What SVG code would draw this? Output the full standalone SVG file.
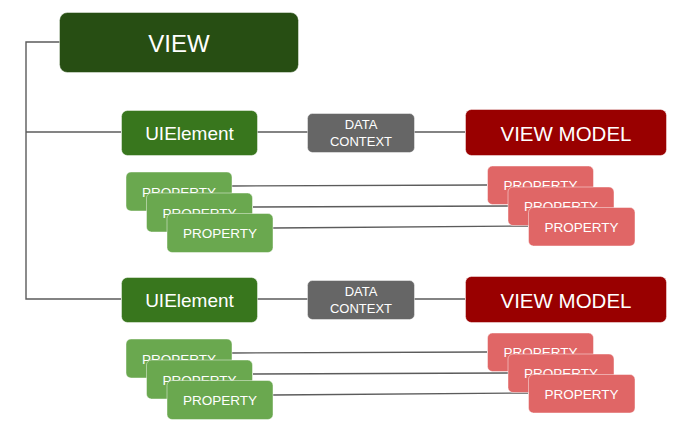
<svg xmlns="http://www.w3.org/2000/svg" width="694" height="434" viewBox="0 0 694 434">
<style>
.ln{stroke:#5b5b5b;stroke-width:1.4;fill:none}
.bx{stroke:#ffffff;stroke-opacity:0.45;stroke-width:1}
.t{font-family:"Liberation Sans",Arial,sans-serif;fill:#ffffff;text-anchor:middle;dominant-baseline:central}
.view{fill:#274e13}
.ui{fill:#38761d}
.gp{fill:#6aa84f}
.dc{fill:#666666}
.vm{fill:#990000}
.rp{fill:#e06666}
.pt{font-size:13.5px}
</style>
<rect width="694" height="434" fill="#ffffff"/>
<g id="connectors">
<path class="ln" d="M60,42 H26 V299 H121"/>
<path class="ln" d="M26,132 H121"/>
<path class="ln" d="M257,132 H308 M414,132 H465"/>
<path class="ln" d="M232,186 L487,185 M253,207 L508,206 M273,228 L528,226"/>
<path class="ln" d="M257,299 H308 M414,299 H465"/>
<path class="ln" d="M232,353 L487,352 M253,374 L508,373 M273,395 L528,393"/>
</g>
<g id="view">
<rect class="bx view" x="59.5" y="12.5" width="239" height="60" rx="8"/>
<text class="t" x="179" y="43" font-size="24">VIEW</text>
</g>
<g id="section1">
<g id="uielement1">
<rect class="bx ui" x="121.5" y="110.5" width="136" height="45" rx="6"/>
<text class="t" x="189.5" y="133" font-size="19">UIElement</text>
</g>
<g id="datacontext1">
<rect class="bx dc" x="307.5" y="113.5" width="107" height="39" rx="5"/>
<text class="t" x="361" y="124" font-size="13">DATA</text>
<text class="t" x="361" y="141" font-size="13">CONTEXT</text>
</g>
<g id="viewmodel1">
<rect class="bx vm" x="465.5" y="109.5" width="201" height="46" rx="6"/>
<text class="t" x="566" y="133" font-size="20.5">VIEW MODEL</text>
</g>
<g id="gprop1a"><rect class="bx gp" x="126" y="172" width="106" height="39" rx="5"/><text class="t pt" x="179" y="192">PROPERTY</text></g>
<g id="gprop1b"><rect class="bx gp" x="146.5" y="193" width="106" height="39" rx="5"/><text class="t pt" x="199.5" y="213">PROPERTY</text></g>
<g id="gprop1c"><rect class="bx gp" x="167" y="213.5" width="106" height="39" rx="5"/><text class="t pt" x="220" y="233">PROPERTY</text></g>
<g id="rprop1a"><rect class="bx rp" x="487.5" y="166" width="106" height="38.5" rx="5"/><text class="t pt" x="540.5" y="185.5">PROPERTY</text></g>
<g id="rprop1b"><rect class="bx rp" x="508" y="187" width="106" height="38.5" rx="5"/><text class="t pt" x="561" y="206.5">PROPERTY</text></g>
<g id="rprop1c"><rect class="bx rp" x="528.5" y="207.5" width="106.5" height="38.5" rx="5"/><text class="t pt" x="581.5" y="227">PROPERTY</text></g>
</g>
<g id="section2" transform="translate(0,167)">
<g id="uielement2">
<rect class="bx ui" x="121.5" y="110.5" width="136" height="45" rx="6"/>
<text class="t" x="189.5" y="133" font-size="19">UIElement</text>
</g>
<g id="datacontext2">
<rect class="bx dc" x="307.5" y="113.5" width="107" height="39" rx="5"/>
<text class="t" x="361" y="124" font-size="13">DATA</text>
<text class="t" x="361" y="141" font-size="13">CONTEXT</text>
</g>
<g id="viewmodel2">
<rect class="bx vm" x="465.5" y="109.5" width="201" height="46" rx="6"/>
<text class="t" x="566" y="133" font-size="20.5">VIEW MODEL</text>
</g>
<g id="gprop2a"><rect class="bx gp" x="126" y="172" width="106" height="39" rx="5"/><text class="t pt" x="179" y="192">PROPERTY</text></g>
<g id="gprop2b"><rect class="bx gp" x="146.5" y="193" width="106" height="39" rx="5"/><text class="t pt" x="199.5" y="213">PROPERTY</text></g>
<g id="gprop2c"><rect class="bx gp" x="167" y="213.5" width="106" height="39" rx="5"/><text class="t pt" x="220" y="233">PROPERTY</text></g>
<g id="rprop2a"><rect class="bx rp" x="487.5" y="166" width="106" height="38.5" rx="5"/><text class="t pt" x="540.5" y="185.5">PROPERTY</text></g>
<g id="rprop2b"><rect class="bx rp" x="508" y="187" width="106" height="38.5" rx="5"/><text class="t pt" x="561" y="206.5">PROPERTY</text></g>
<g id="rprop2c"><rect class="bx rp" x="528.5" y="207.5" width="106.5" height="38.5" rx="5"/><text class="t pt" x="581.5" y="227">PROPERTY</text></g>
</g>
</svg>
